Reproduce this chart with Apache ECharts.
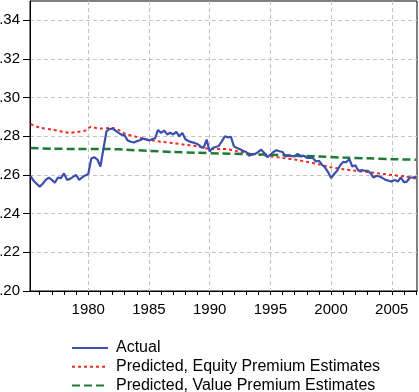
<!DOCTYPE html>
<html>
<head>
<meta charset="utf-8">
<script src="https://cdn.jsdelivr.net/npm/echarts@6/dist/echarts.min.js"></script>
<style>
  html, body { margin: 0; padding: 0; background: #fff; }
  #chart { width: 419px; height: 392px; }
</style>
</head>
<body>
<div id="chart"></div>
<script>
// quarterly actual values, first obs 1975Q2
var actualStart = 1975.25;
var actualVals = [
  0.2595, 0.2570, 0.2555,
  0.2540, 0.2555, 0.2575, 0.2587,
  0.2575, 0.2560, 0.2587, 0.2584,
  0.2608, 0.2575, 0.2580, 0.2590,
  0.2600, 0.2575, 0.2588, 0.2598,
  0.2605, 0.2685, 0.2692, 0.2680,
  0.2644, 0.2735, 0.2826, 0.2838,
  0.2840, 0.2830, 0.2818, 0.2808,
  0.2805, 0.2778, 0.2772, 0.2768,
  0.2775, 0.2780, 0.2788, 0.2784,
  0.2778, 0.2785, 0.2790, 0.2833,
  0.2818, 0.2830, 0.2810, 0.2818,
  0.2810, 0.2823, 0.2800, 0.2818,
  0.2785, 0.2775, 0.2770, 0.2766,
  0.2760, 0.2748, 0.2740, 0.2783,
  0.2722, 0.2740, 0.2745, 0.2750,
  0.2774, 0.2800, 0.2795, 0.2798,
  0.2748, 0.2740, 0.2733, 0.2725,
  0.2719, 0.2700, 0.2706, 0.2709,
  0.2719, 0.2731, 0.2714, 0.2693,
  0.2705, 0.2719, 0.2728, 0.2723,
  0.2719, 0.2696, 0.2700, 0.2698,
  0.2696, 0.2709, 0.2696, 0.2700,
  0.2688, 0.2690, 0.2688, 0.2670,
  0.2674, 0.2653, 0.2639, 0.2615,
  0.2584, 0.2605, 0.2622, 0.2650,
  0.2668, 0.2666, 0.2683, 0.2644,
  0.2650, 0.2622, 0.2625, 0.2622,
  0.2622, 0.2610, 0.2587, 0.2596,
  0.2592, 0.2584, 0.2575, 0.2570,
  0.2566, 0.2575, 0.2566, 0.2587,
  0.2563, 0.2566, 0.2587, 0.2587,
  0.2590
];

var equityYears = [1975.25, 1976, 1977, 1978, 1978.5, 1979, 1979.75, 1980.25, 1980.5, 1981, 1981.5, 1982, 1982.5,
  1983, 1984, 1985, 1986, 1987, 1988, 1989, 1990, 1991, 1991.5, 1992, 1993, 1994, 1995, 1996, 1997,
  1998, 1999, 2000, 2001, 2002, 2003, 2004, 2005, 2006, 2007];
var equityVals = [0.2863, 0.2845, 0.2835, 0.2822, 0.2818, 0.2822, 0.2830, 0.2850, 0.2845, 0.2840, 0.2842, 0.2843, 0.2833,
  0.2815, 0.2797, 0.2782, 0.2772, 0.2765, 0.2756, 0.2748, 0.2735, 0.2735, 0.2733, 0.2727, 0.2715, 0.2705, 0.2697, 0.2688, 0.2680,
  0.2668, 0.2655, 0.2640, 0.2630, 0.2622, 0.2615, 0.2608, 0.2600, 0.2593, 0.2582];

var valueYears = [1975.25, 1977, 1979, 1981, 1982, 1983, 1985, 1987, 1989, 1991, 1993, 1995, 1997, 1999, 2001, 2003, 2005, 2007];
var valueVals = [0.2740, 0.2736, 0.2735, 0.2735, 0.2734, 0.2731, 0.2725, 0.2719, 0.2715, 0.2711, 0.2708, 0.2705, 0.2700,
  0.2696, 0.2690, 0.2686, 0.2682, 0.2679];

var xLabels = [1980, 1985, 1990, 1995, 2000, 2005];
var xTickYears = [];
for (var y = 1976; y <= 2007; y++) xTickYears.push(y);
var yTicks = [0.20, 0.22, 0.24, 0.26, 0.28, 0.30, 0.32, 0.34];

function pairs(xs, vs) {
  return xs.map(function (x, i) { return [x, vs[i]]; });
}
var actualData = actualVals.map(function (v, i) { return [actualStart + i * 0.25, v]; });

var font = 'Liberation Sans, Arial, Helvetica, sans-serif';
var gridLine = { show: true, lineStyle: { color: '#c4c4c4', type: [4, 3], width: 1 } };

var chart = echarts.init(document.getElementById('chart'));
chart.setOption({
  animation: false,
  grid: {
    left: 30, right: 2, top: 1, bottom: 101, outerBoundsMode: 'none', containLabel: false,
    show: true, borderColor: '#000', borderWidth: 1
  },
  legend: {
    orient: 'vertical', left: 71, top: 340, height: 60, padding: 0,
    itemWidth: 36, itemHeight: 14, itemGap: 2.7,
    itemStyle: { opacity: 0 },
    textStyle: { fontFamily: font, fontSize: 16, color: '#000', padding: [0, 0, 0, 3] },
    data: ['Actual', 'Predicted, Equity Premium Estimates', 'Predicted, Value Premium Estimates']
  },
  xAxis: [{
    type: 'value', min: 1975.2, max: 2007.08,
    axisLine: { onZero: false, lineStyle: { color: '#000', width: 1 } },
    axisTick: { customValues: xTickYears, length: 4, lineStyle: { color: '#000' } },
    axisLabel: {
      customValues: xLabels, fontFamily: font, fontSize: 15, color: '#000', margin: 11,
      formatter: function (v) { return String(v); }
    },
    splitLine: { show: false }
  }, {
    type: 'value', min: 1975.2, max: 2007.08, position: 'top',
    axisLine: { show: false },
    axisTick: { show: false, customValues: xLabels },
    axisLabel: { show: false },
    splitLine: gridLine
  }],
  yAxis: {
    type: 'value', min: 0.20, max: 0.35,
    axisLine: { onZero: false, lineStyle: { color: '#000', width: 1 } },
    axisTick: { customValues: yTicks, length: 7, lineStyle: { color: '#000' } },
    axisLabel: {
      customValues: yTicks, fontFamily: font, fontSize: 15, color: '#000', margin: 10,
      formatter: function (v) { return v.toFixed(2).replace(/^0/, ''); }
    },
    splitLine: gridLine
  },
  series: [{
    name: 'Actual', type: 'line', xAxisIndex: 0, data: actualData,
    showSymbol: false, symbol: 'none', color: '#3a4fae',
    lineStyle: { width: 2.2, color: '#3a4fae' }, z: 4
  }, {
    name: 'Predicted, Equity Premium Estimates', type: 'line', xAxisIndex: 0,
    data: pairs(equityYears, equityVals), smooth: 0.3,
    showSymbol: false, symbol: 'none', color: '#f2281c',
    lineStyle: { width: 2, color: '#f2281c', type: [3, 3] }, z: 3
  }, {
    name: 'Predicted, Value Premium Estimates', type: 'line', xAxisIndex: 0,
    data: pairs(valueYears, valueVals), smooth: 0.3,
    showSymbol: false, symbol: 'none', color: '#1f7a36',
    lineStyle: { width: 2.5, color: '#1f7a36', type: [8, 4] }, z: 3
  }]
});
</script>
</body>
</html>
